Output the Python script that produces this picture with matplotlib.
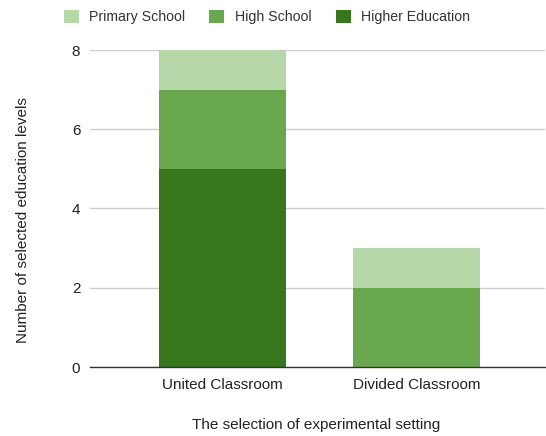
import matplotlib
matplotlib.use("Agg")
import matplotlib.pyplot as plt
import numpy as np

categories = ["United Classroom", "Divided Classroom"]
series_names = ["Primary School", "High School", "Higher Education"]
higher_education = [5, 0]
high_school = [2, 2]
primary_school = [1, 1]
y_ticks = [0, 2, 4, 6, 8]

colors = {"Primary School": "#b6d7a8", "High School": "#6aa84f", "Higher Education": "#38761d"}

plt.rcParams['font.family'] = ['Liberation Sans', 'DejaVu Sans']

fig = plt.figure(figsize=(5.46, 4.36), dpi=100)
ax = fig.add_axes([90/546, 1-367/436, (545-90)/546, (367-50)/436])

x = np.arange(len(categories))
w = 0.655
b1 = ax.bar(x, higher_education, w, color=colors["Higher Education"], label="Higher Education", zorder=3)
b2 = ax.bar(x, high_school, w, bottom=higher_education, color=colors["High School"], label="High School", zorder=3)
bot3 = [a + b for a, b in zip(higher_education, high_school)]
b3 = ax.bar(x, primary_school, w, bottom=bot3, color=colors["Primary School"], label="Primary School", zorder=3)

ax.set_xlim(-0.683, 1.662)
ax.set_ylim(0, 8)
ax.set_yticks(y_ticks)
ax.set_yticklabels([str(v) for v in y_ticks])
ax.set_xticks(x)
ax.set_xticklabels(categories)
ax.grid(axis='y', color='#cccccc', linewidth=1, zorder=0)
for s in ['top', 'right', 'left']:
    ax.spines[s].set_visible(False)
ax.spines['bottom'].set_color('#333333')
ax.spines['bottom'].set_linewidth(1)
ax.spines['bottom'].set_zorder(4)
ax.tick_params(axis='x', length=0, labelsize=11, colors='#222222', pad=8)
ax.tick_params(axis='y', length=0, labelsize=11, colors='#222222', pad=7)

fig.text(316/546, 1-425/436, "The selection of experimental setting", fontsize=11,
         color='#222222', ha='center', va='center')
fig.text(23/546, 1-220/436, "Number of selected education levels", fontsize=11,
         color='#222222', ha='center', va='center', rotation=90)

handles = [b3, b2, b1]
leg = fig.legend(handles, series_names, loc='center', bbox_to_anchor=(267/546, 1-17/436),
                 ncol=3, frameon=False, fontsize=10.2, handlelength=1.05, handleheight=1.05,
                 columnspacing=1.7, handletextpad=0.75, labelcolor='#333333')

fig.savefig("out.png", dpi=100)
